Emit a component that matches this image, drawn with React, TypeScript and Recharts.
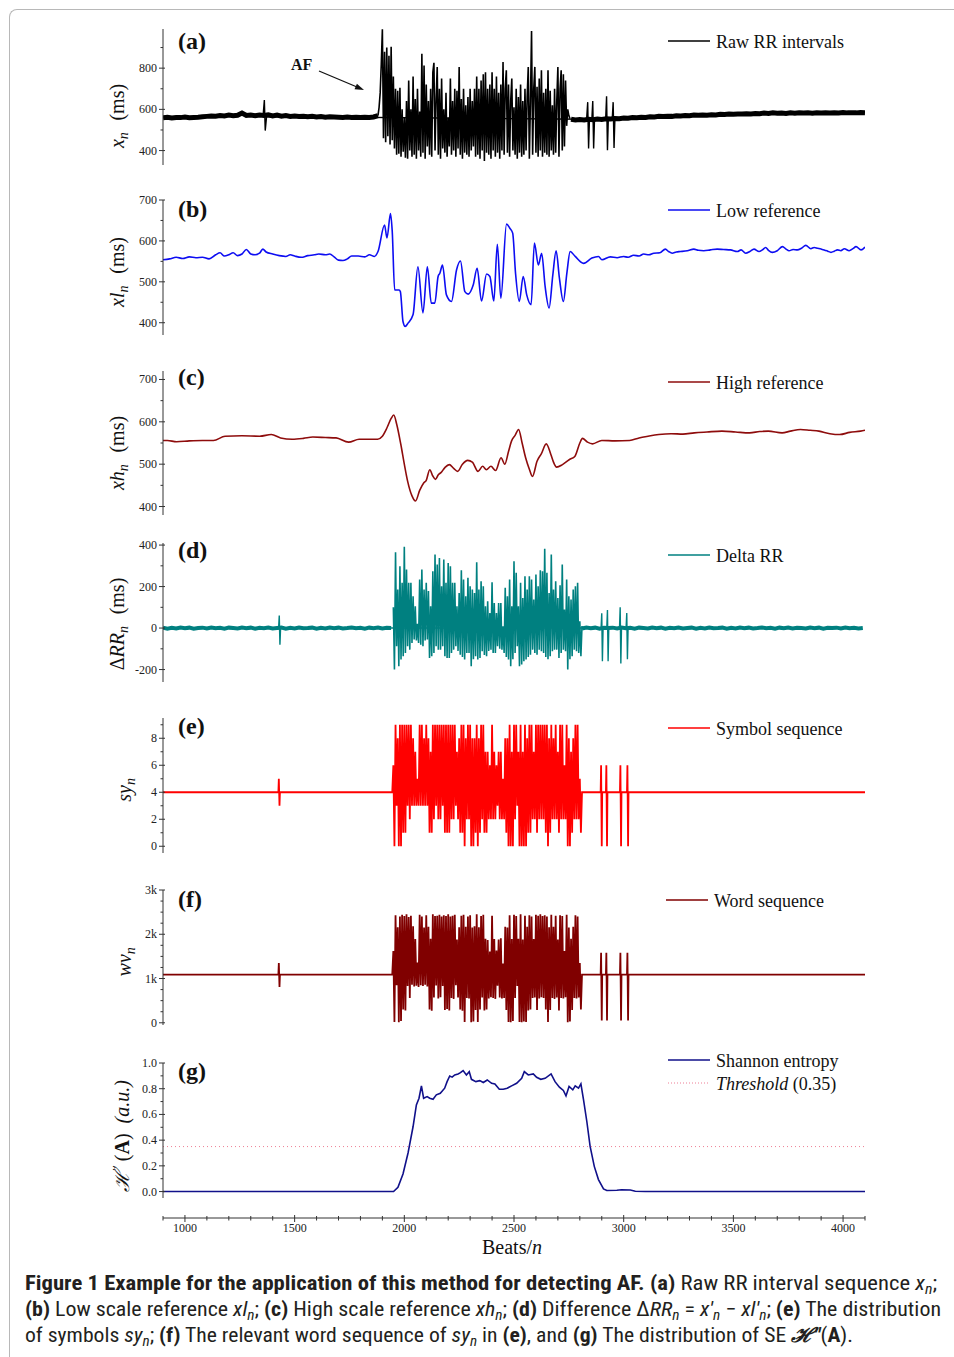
import React from 'react';
import { LineChart, Line, XAxis, YAxis, Legend } from 'recharts';

const SERIF = '"Liberation Serif", "Times New Roman", Times, serif';
const CAP_FONT = '"Liberation Sans Narrow", "Roboto Condensed", "Open Sans", "Liberation Sans", sans-serif';
const BEAT_DOMAIN: [number, number] = [900, 4100];
const X_TICKS = [900, 1000, 1100, 1200, 1300, 1400, 1500, 1600, 1700, 1800, 1900, 2000, 2100, 2200, 2300, 2400, 2500, 2600, 2700, 2800, 2900, 3000, 3100, 3200, 3300, 3400, 3500, 3600, 3700, 3800, 3900, 4000, 4100];
const X_MAJORS = [1000, 1500, 2000, 2500, 3000, 3500, 4000];

// ---------- (a) Raw RR intervals ----------
const A_BASE_L_START = 900; // step 20
const A_BASE_L = [
  559, 562, 558, 561, 560, 563, 559, 561, 562, 564,
  566, 568, 567, 570, 568, 572, 569, 571, 582, 570,
  572, 569, 573, 570, 574, 568, 572, 567, 570, 566,
  568, 565, 567, 564, 566, 563, 565, 562, 564, 563,
  562, 561, 563, 561, 562, 560, 562, 561, 563, 570];
const A_AF_START = 1880; // step 5
const A_AF = [
  570, 610, 680, 820, 989, 460, 880, 440, 900, 470,
  860, 430, 904, 450, 760, 410, 700, 380, 690, 385,
  705, 370, 600, 395, 560, 365, 640, 360, 740, 400,
  600, 370, 760, 380, 650, 360, 700, 400, 590, 370,
  870, 390, 813, 360, 720, 420, 640, 380, 700, 370,
  780, 826, 400, 650, 805, 380, 700, 360, 750, 410,
  600, 390, 680, 370, 560, 420, 750, 380, 640, 400,
  700, 370, 690, 410, 805, 380, 650, 360, 700, 390,
  620, 380, 660, 370, 700, 400, 640, 420, 700, 370,
  760, 380, 700, 360, 740, 400, 770, 350, 780, 390,
  700, 380, 720, 360, 780, 400, 700, 370, 760, 390,
  680, 360, 720, 400, 830, 380, 700, 790, 390, 720,
  370, 640, 750, 400, 610, 380, 700, 360, 660, 390,
  720, 370, 640, 380, 700, 400, 660, 805, 360, 640,
  980, 380, 700, 806, 390, 710, 370, 750, 400, 790,
  370, 680, 390, 700, 380, 790, 370, 690, 400, 620,
  380, 700, 390, 640, 805, 370, 700, 790, 400, 770,
  420, 740, 520, 600, 570, 555];
const A_BASE_R_START = 2760; // step 20
const A_BASE_R = [
  552, 548, 551, 549, 552, 550, 553, 551, 554, 553,
  556, 555, 558, 557, 560, 559, 562, 561, 564, 563,
  566, 565, 567, 566, 569, 568, 570, 569, 572, 571,
  573, 572, 574, 573, 576, 575, 577, 576, 578, 577,
  579, 578, 580, 579, 582, 580, 583, 581, 582, 580,
  583, 581, 584, 582, 583, 581, 584, 582, 583, 582,
  584, 582, 585, 583, 584, 583, 585, 584];
const A_SPIKES = [1356, 565, 1362, 645, 1366, 497, 1372, 565, 2831, 552, 2836, 635, 2840, 410, 2844, 552, 2855, 552, 2859, 640, 2863, 410, 2867, 552, 2918, 556, 2922, 663, 2926, 402, 2930, 556, 2948, 556, 2952, 635, 2956, 412, 2960, 556];

// ---------- (b) Low reference ----------
const B_PAIRS = [900, 554, 930, 556, 960, 560, 990, 557, 1020, 561, 1050, 559, 1080, 560, 1110, 556, 1140, 566, 1160, 571, 1180, 563, 1200, 566, 1220, 571, 1240, 564, 1260, 568, 1280, 579, 1300, 568, 1320, 566, 1340, 570, 1355, 580, 1370, 573, 1400, 568, 1430, 564, 1460, 562, 1480, 566, 1500, 563, 1530, 560, 1560, 564, 1590, 566, 1610, 568, 1640, 566, 1660, 568, 1680, 561, 1700, 553, 1720, 552, 1740, 556, 1760, 563, 1790, 563, 1820, 561, 1841, 566, 1864, 562, 1880, 574, 1910, 639, 1921, 607, 1937, 667, 1945, 623, 1956, 480, 1976, 480, 1982, 476, 1994, 403, 2004, 391, 2017, 399, 2040, 420, 2062, 537, 2085, 424, 2105, 537, 2123, 448, 2139, 448, 2154, 513, 2162, 521, 2174, 541, 2192, 468, 2215, 452, 2238, 529, 2256, 551, 2276, 476, 2291, 470, 2314, 492, 2332, 533, 2352, 453, 2375, 519, 2390, 513, 2408, 453, 2424, 592, 2440, 460, 2466, 641, 2481, 631, 2494, 619, 2507, 521, 2524, 452, 2542, 513, 2558, 468, 2578, 444, 2593, 595, 2611, 541, 2626, 570, 2642, 488, 2660, 436, 2677, 517, 2692, 576, 2707, 509, 2725, 452, 2741, 521, 2756, 574, 2779, 562, 2817, 545, 2855, 558, 2885, 562, 2901, 554, 2939, 561, 2970, 559, 2999, 562, 3020, 560, 3045, 565, 3070, 563, 3091, 568, 3115, 566, 3137, 570, 3165, 571, 3190, 580, 3205, 574, 3221, 570, 3240, 573, 3259, 574, 3290, 576, 3320, 580, 3340, 577, 3365, 576, 3395, 578, 3426, 580, 3455, 579, 3487, 578, 3518, 574, 3535, 578, 3556, 570, 3575, 574, 3594, 580, 3617, 574, 3632, 578, 3647, 584, 3660, 577, 3678, 572, 3700, 576, 3724, 586, 3740, 580, 3754, 576, 3772, 579, 3792, 578, 3810, 582, 3830, 589, 3853, 581, 3868, 584, 3884, 582, 3900, 580, 3914, 578, 3930, 575, 3945, 572, 3960, 575, 3975, 578, 3990, 576, 4006, 581, 4028, 576, 4045, 581, 4059, 586, 4082, 578, 4100, 585];

// ---------- (c) High reference ----------
const C_PAIRS = [900, 556, 920, 556, 962, 553, 1020, 555, 1080, 556, 1130, 556, 1183, 566, 1260, 567, 1341, 566, 1394, 570, 1436, 562, 1489, 559, 1540, 561, 1583, 564, 1640, 563, 1689, 562, 1746, 552, 1794, 559, 1840, 559, 1878, 559, 1900, 566, 1921, 586, 1940, 608, 1952, 616, 1965, 595, 1984, 547, 2000, 500, 2015, 460, 2035, 425, 2051, 413, 2070, 438, 2089, 456, 2100, 462, 2116, 487, 2130, 472, 2142, 464, 2155, 475, 2167, 480, 2185, 492, 2205, 499, 2225, 490, 2243, 483, 2265, 500, 2289, 509, 2310, 505, 2336, 483, 2357, 495, 2374, 487, 2395, 495, 2416, 485, 2441, 515, 2458, 500, 2475, 530, 2489, 555, 2505, 568, 2521, 582, 2537, 550, 2553, 515, 2570, 488, 2584, 471, 2605, 507, 2625, 525, 2647, 548, 2668, 523, 2680, 505, 2694, 493, 2721, 499, 2753, 511, 2778, 519, 2800, 550, 2812, 561, 2835, 552, 2858, 548, 2900, 556, 2960, 555, 3027, 556, 3070, 562, 3111, 566, 3160, 570, 3216, 572, 3270, 571, 3322, 574, 3380, 576, 3448, 578, 3510, 576, 3574, 574, 3620, 577, 3659, 578, 3722, 574, 3760, 578, 3806, 582, 3850, 580, 3890, 578, 3940, 572, 3985, 570, 4030, 575, 4080, 578, 4100, 580];

// ---------- (d) Delta RR ----------
const D_BASE_L_START = 900; // step 20
const D_BASE_L = [2, -3, 1, -2, 3, -1, 2, -3, 0, 2, -2, 3, -1, 1, -3, 2, 0, -2, 3, -1, 2, -3, 1, -1, 3, -2, 0, 2, -3, 1, -2, 3, -1, 0, 2, -3, 1, -2, 3, -1, 2, -2, 0, 3, -1, 1, -3, 2, -1, 3, -2, 1, 0];
const D_AF_START = 1950; // step 5
const D_AF = [
  100, -200, 365, -88, 186, -184, 298, -152, 218, -136,
  392, -120, 282, -88, 218, -104, 218, -72, 153, -55,
  105, -60, 20, -72, 234, -80, 282, -88, 186, -60,
  218, -55, 178, -144, 105, -136, 274, -120, 354, -88,
  306, -104, 338, -104, 202, -88, 330, -136, 218, -144,
  314, -144, 298, -120, 218, -104, 218, -88, 105, -110,
  169, -128, 279, -140, 234, -152, 153, -120, 242, -120,
  202, -184, 186, -150, 169, -136, 317, -152, 186, -144,
  226, -112, 202, -130, 105, -136, 129, -110, 73, -104,
  221, -120, 121, -120, 73, -88, 121, -100, 121, -104,
  9, -120, 194, -140, 153, -152, 234, -184, 105, -150,
  322, -120, 266, -88, 105, -184, 218, -176, 145, -160,
  250, -152, 186, -140, 250, -128, 234, -104, 137, -120,
  258, -128, 202, -104, 279, -112, 274, -120, 382, -140,
  266, -150, 169, -136, 354, -112, 186, -104, 226, -104,
  145, -144, 206, -120, 306, -104, 89, -112, 234, -200,
  153, -150, 137, -136, 186, -104, 202, -112, 218, -120,
  33, -136, 10];
const D_BASE_R_START = 2810; // step 20
const D_BASE_R = [-2, 3, -1, 2, -3, 1, 0, 2, -2, 3, -1, 1, -3, 2, 0, -2, 3, -1, 2, -3, 1, -1, 3, -2, 0, 2, -3, 1, -2, 3, -1, 0, 2, -3, 1, -2, 3, -1, 2, -2, 0, 3, -1, 1, -3, 2, -1, 3, -2, 1, 0, -2, 3, -1, 2, -3, 1, 0, 2, -2, 3, -1, 1, -2, 0];
const D_SPIKES = [1427, 0, 1430, 60, 1433, -80, 1436, 0, 2897, 0, 2900, 71, 2903, -160, 2906, 0, 2923, 0, 2926, 87, 2929, -160, 2932, 0, 2981, 0, 2984, 100, 2987, -171, 2990, 0, 3011, 0, 3014, 73, 3017, -150, 3020, 0];

// ---------- (e) Symbol sequence ----------
const E_PRE = [900, 4, 1426, 4, 1428, 5, 1431, 3, 1433, 4, 1945, 4];
const E_AF_START = 1950; // step 5
const E_AF = [
  6, 0, 9, 3, 8, 0, 9, 0, 9, 1,
  9, 1, 9, 3, 9, 2, 9, 3, 8, 3,
  7, 3, 5, 3, 9, 3, 9, 3, 8, 3,
  9, 3, 8, 1, 7, 1, 9, 2, 9, 3,
  9, 2, 9, 2, 9, 3, 9, 1, 9, 1,
  9, 1, 9, 2, 9, 2, 9, 3, 7, 2,
  8, 1, 9, 1, 9, 0, 8, 2, 9, 2,
  9, 0, 8, 0, 8, 1, 9, 0, 8, 1,
  9, 2, 9, 1, 7, 1, 7, 2, 6, 2,
  9, 2, 7, 2, 6, 3, 7, 2, 7, 2,
  5, 2, 8, 1, 8, 0, 9, 0, 7, 0,
  9, 2, 9, 3, 7, 0, 9, 0, 7, 0,
  9, 0, 8, 1, 9, 1, 9, 2, 7, 2,
  9, 1, 9, 2, 9, 2, 9, 2, 9, 1,
  9, 0, 8, 1, 9, 2, 8, 2, 9, 2,
  7, 1, 9, 2, 9, 2, 6, 2, 9, 0,
  8, 0, 7, 1, 8, 2, 9, 2, 9, 2,
  5, 1, 4];
const E_POST = [2895, 4, 2897, 6, 2900, 0, 2902, 4, 2919, 4, 2921, 6, 2924, 0, 2926, 4, 2983, 4, 2985, 6, 2988, 0, 2990, 4, 3015, 4, 3017, 6, 3020, 0, 3022, 4, 4100, 4];

// ---------- (f) Word sequence ----------
const F_PRE = [900, 1090, 1426, 1090, 1428, 1350, 1431, 810, 1433, 1090, 1945, 1090];
const F_AF_START = 1950; // step 5
const F_AF = [
  1620, 20, 2430, 850, 2160, 10, 2400, 40, 2440, 300,
  2410, 280, 2450, 830, 2390, 560, 2420, 860, 2180, 820,
  1890, 840, 1360, 810, 2440, 850, 2400, 830, 2150, 860,
  2430, 820, 2170, 300, 1900, 270, 2450, 570, 2410, 840,
  2420, 550, 2440, 580, 2400, 830, 2430, 290, 2410, 310,
  2450, 280, 2400, 560, 2420, 540, 2440, 850, 1880, 570,
  2160, 300, 2420, 270, 2440, 20, 2170, 560, 2400, 550,
  2430, 10, 2150, 30, 2180, 290, 2450, 20, 2160, 300,
  2410, 570, 2440, 280, 1900, 300, 1870, 550, 1610, 580,
  2420, 560, 1890, 540, 1630, 840, 1880, 570, 1910, 550,
  1340, 560, 2170, 290, 2150, 20, 2430, 10, 1890, 40,
  2440, 560, 2410, 830, 1900, 20, 2450, 10, 1880, 30,
  2420, 20, 2170, 280, 2430, 300, 2400, 560, 1890, 570,
  2440, 290, 2420, 550, 2450, 580, 2410, 560, 2430, 300,
  2400, 20, 2160, 290, 2440, 560, 2170, 540, 2420, 570,
  1880, 280, 2430, 560, 2410, 550, 1620, 580, 2440, 10,
  2150, 30, 1900, 290, 2170, 560, 2430, 550, 2400, 570,
  1350, 300, 1090];
const F_POST = [2895, 1090, 2897, 1580, 2900, 50, 2902, 1090, 2919, 1090, 2921, 1580, 2924, 50, 2926, 1090, 2983, 1090, 2985, 1580, 2988, 50, 2990, 1090, 3015, 1090, 3017, 1580, 3020, 50, 3022, 1090, 4100, 1090];

// ---------- (g) Shannon entropy ----------
const G_PAIRS = [900, 0, 1951, 0, 1971, 0.034, 1994, 0.137, 2017, 0.30, 2040, 0.506, 2055, 0.674, 2067, 0.726, 2078, 0.822, 2088, 0.726, 2104, 0.739, 2116, 0.726, 2131, 0.718, 2146, 0.752, 2164, 0.765, 2184, 0.804, 2195, 0.855, 2207, 0.899, 2218, 0.89, 2230, 0.907, 2245, 0.915, 2256, 0.925, 2268, 0.941, 2283, 0.907, 2296, 0.933, 2306, 0.873, 2326, 0.855, 2344, 0.863, 2360, 0.848, 2378, 0.868, 2398, 0.842, 2413, 0.837, 2433, 0.796, 2451, 0.796, 2469, 0.804, 2489, 0.822, 2512, 0.842, 2535, 0.881, 2547, 0.933, 2565, 0.907, 2588, 0.915, 2603, 0.889, 2622, 0.873, 2642, 0.881, 2669, 0.915, 2687, 0.855, 2707, 0.812, 2725, 0.786, 2737, 0.744, 2751, 0.817, 2768, 0.791, 2779, 0.822, 2794, 0.804, 2805, 0.837, 2817, 0.713, 2832, 0.545, 2847, 0.351, 2866, 0.196, 2885, 0.093, 2908, 0.02, 2923, 0.008, 2969, 0.01, 2990, 0.014, 3030, 0.012, 3053, 0.003, 3100, 0, 4100, 0];
const THRESHOLD_PAIRS = [900, 0.35, 4100, 0.35];

// ---------- helpers ----------
type Pt = { n: number; v: number };
const fromPairs = (a: number[]): Pt[] => {
  const out: Pt[] = [];
  for (let i = 0; i < a.length; i += 2) out.push({ n: a[i], v: a[i + 1] });
  return out;
};
const fromSeq = (start: number, step: number, vals: number[]): Pt[] => vals.map((v, i) => ({ n: start + i * step, v }));

const aBaseL = fromSeq(A_BASE_L_START, 20, A_BASE_L);
const aAF = fromSeq(A_AF_START, 5, A_AF);
const aBaseR = fromSeq(A_BASE_R_START, 20, A_BASE_R);
const aSpikes = fromPairs(A_SPIKES);
const bData = fromPairs(B_PAIRS);
const cData = fromPairs(C_PAIRS);
const dBaseL = fromSeq(D_BASE_L_START, 20, D_BASE_L);
const dAF = fromSeq(D_AF_START, 5, D_AF);
const dBaseR = fromSeq(D_BASE_R_START, 20, D_BASE_R);
const dSpikes = fromPairs(D_SPIKES);
const eData = [...fromPairs(E_PRE), ...fromSeq(E_AF_START, 5, E_AF), ...fromPairs(E_POST)];
const fData = [...fromPairs(F_PRE), ...fromSeq(F_AF_START, 5, F_AF), ...fromPairs(F_POST)];
const gData = fromPairs(G_PAIRS);
const thrData = fromPairs(THRESHOLD_PAIRS);

const isIn = (arr: number[], v: number) => arr.some((m) => Math.abs(m - v) < 1e-9);

const makeYTick = (majors: number[], fmt: (v: number) => string) => (p: any) => {
  const { x, y, payload } = p;
  const v = payload.value;
  const major = isIn(majors, v);
  return (
    <g>
      <line x1={x - (major ? 4 : 2.5)} x2={x + (major ? 2 : 0)} y1={y} y2={y} stroke="#333" strokeWidth={1} />
      {major && (
        <text x={x - 6} y={y + 4} textAnchor="end" fontFamily={SERIF} fontSize={12} fill="#222">
          {fmt(v)}
        </text>
      )}
    </g>
  );
};

const XTick = (p: any) => {
  const { x, y, payload } = p;
  const v = payload.value;
  const major = isIn(X_MAJORS, v);
  return (
    <g>
      <line x1={x} x2={x} y1={y - (major ? 3 : 2)} y2={y + (major ? 4 : 2.5)} stroke="#333" strokeWidth={1} />
      {major && (
        <text x={x} y={y + 14} textAnchor="middle" fontFamily={SERIF} fontSize={12} fill="#222">
          {v}
        </text>
      )}
    </g>
  );
};

const renderLegendName = (name: string) => {
  if (name === 'Threshold (0.35)') {
    return (
      <>
        <tspan fontStyle="italic">Threshold</tspan>
        <tspan>{' (0.35)'}</tspan>
      </>
    );
  }
  return name;
};

const LegendBox = (props: any) => {
  const items = (props.payload || []).filter((it: any) => it.type !== 'none' && it.value !== 'v');
  return (
    <svg width={240} height={items.length * 23} style={{ display: 'block', overflow: 'visible' }}>
      {items.map((it: any, i: number) => {
        const cy = 11.5 + i * 23;
        const dotted = it.value === 'Threshold (0.35)';
        return (
          <g key={i}>
            <line x1={0} x2={42} y1={cy - 1.5} y2={cy - 1.5} stroke={it.color} strokeWidth={dotted ? 1 : 1.4} strokeDasharray={dotted ? '1 2' : undefined} />
            <text x={48} y={cy + 5.5} fontFamily={SERIF} fontSize={18} fill="#111">
              {renderLegendName(String(it.value))}
            </text>
          </g>
        );
      })}
    </svg>
  );
};

const PAD = 12;

type PanelProps = {
  plotTop: number;
  plotH: number;
  domain: [number, number];
  ticks: number[];
  majors: number[];
  fmt: (v: number) => string;
  legendCenter: number;
  legendLeft?: number;
  children: React.ReactNode;
};

const Panel = ({ plotTop, plotH, domain, ticks, majors, fmt, legendCenter, legendLeft = 668, children }: PanelProps) => {
  const top = plotTop - PAD;
  return (
    <div style={{ position: 'absolute', left: 0, top }}>
      <LineChart width={954} height={plotH + 2 * PAD} margin={{ top: PAD, bottom: PAD, left: 123, right: 89 }}>
        <XAxis type="number" dataKey="n" domain={BEAT_DOMAIN} hide allowDataOverflow />
        <YAxis
          type="number"
          domain={domain}
          ticks={ticks}
          interval={0}
          allowDataOverflow
          width={40}
          tickSize={0}
          tickMargin={0}
          tickLine={false}
          axisLine={{ stroke: '#333', strokeWidth: 1 }}
          tick={makeYTick(majors, fmt)}
        />
        <Legend
          content={LegendBox}
          layout="vertical"
          align="center"
          verticalAlign="middle"
          wrapperStyle={{ left: legendLeft, top: legendCenter - 11.5 - top, width: 240 }}
        />
        {children}
      </LineChart>
    </div>
  );
};

const plain = (v: number) => String(v);
const kfmt = (v: number) => (v === 0 ? '0' : `${v / 1000}k`);
const onefmt = (v: number) => v.toFixed(1);

const Sub = ({ t, size = 14, d = 4 }: { t: string; size?: number; d?: number }) => (
  <>
    <tspan fontStyle="italic" fontSize={size} dy={d}>{t}</tspan>
    <tspan dy={-d}>{'\u200a'}</tspan>
  </>
);

export default function App() {
  const navy = '#10108a';
  return (
    <div style={{ position: 'absolute', left: 0, top: 0, width: 954, height: 1357, background: '#fff', overflow: 'hidden' }}>
      <div style={{ position: 'absolute', left: 9, top: 9, width: 980, height: 1400, borderTop: '1px solid #b8b8b8', borderLeft: '1px solid #b8b8b8', borderTopLeftRadius: 8 }} />

      {/* (a) */}
      <Panel plotTop={29} plotH={136} domain={[330, 990]} ticks={[400, 500, 600, 700, 800, 900]} majors={[400, 600, 800]} fmt={plain} legendCenter={42}>
        <Line data={aBaseL} dataKey="v" stroke="#000" strokeWidth={5} dot={false} isAnimationActive={false} legendType="none" />
        <Line data={aBaseR} dataKey="v" stroke="#000" strokeWidth={5} dot={false} isAnimationActive={false} legendType="none" />
        <Line data={aSpikes} dataKey="v" stroke="#000" strokeWidth={1.4} dot={false} isAnimationActive={false} legendType="none" />
        <Line data={aAF} dataKey="v" name="Raw RR intervals" stroke="#000" strokeWidth={1.6} dot={false} isAnimationActive={false} />
      </Panel>

      {/* (b) */}
      <Panel plotTop={200} plotH={135} domain={[370, 700]} ticks={[400, 450, 500, 550, 600, 650, 700]} majors={[400, 500, 600, 700]} fmt={plain} legendCenter={211}>
        <Line type="monotone" data={bData} dataKey="v" name="Low reference" stroke="#0d0df2" strokeWidth={1.6} dot={false} isAnimationActive={false} />
      </Panel>

      {/* (c) */}
      <Panel plotTop={371} plotH={144} domain={[380, 720]} ticks={[400, 450, 500, 550, 600, 650, 700]} majors={[400, 500, 600, 700]} fmt={plain} legendCenter={383}>
        <Line type="monotone" data={cData} dataKey="v" name="High reference" stroke="#8e0c0c" strokeWidth={1.6} dot={false} isAnimationActive={false} />
      </Panel>

      {/* (d) */}
      <Panel plotTop={543} plotH={139} domain={[-260, 410]} ticks={[-200, -100, 0, 100, 200, 300, 400]} majors={[-200, 0, 200, 400]} fmt={plain} legendCenter={556}>
        <Line data={dBaseL} dataKey="v" stroke="#008080" strokeWidth={4} dot={false} isAnimationActive={false} legendType="none" />
        <Line data={dBaseR} dataKey="v" stroke="#008080" strokeWidth={4} dot={false} isAnimationActive={false} legendType="none" />
        <Line data={dSpikes} dataKey="v" stroke="#008080" strokeWidth={1.4} dot={false} isAnimationActive={false} legendType="none" />
        <Line data={dAF} dataKey="v" name="Delta RR" stroke="#008080" strokeWidth={1.6} dot={false} isAnimationActive={false} />
      </Panel>

      {/* (e) */}
      <Panel plotTop={718} plotH={135} domain={[-0.5, 9.5]} ticks={[0, 1, 2, 3, 4, 5, 6, 7, 8, 9]} majors={[0, 2, 4, 6, 8]} fmt={plain} legendCenter={729}>
        <Line data={eData} dataKey="v" name="Symbol sequence" stroke="#ff0000" strokeWidth={1.8} dot={false} isAnimationActive={false} />
      </Panel>

      {/* (f) */}
      <Panel plotTop={890} plotH={135} domain={[-50, 3000]} ticks={[0, 250, 500, 750, 1000, 1250, 1500, 1750, 2000, 2250, 2500, 2750, 3000]} majors={[0, 1000, 2000, 3000]} fmt={kfmt} legendCenter={901} legendLeft={666}>
        <Line data={fData} dataKey="v" name="Word sequence" stroke="#800000" strokeWidth={1.8} dot={false} isAnimationActive={false} />
      </Panel>

      {/* (g) */}
      <Panel plotTop={1063} plotH={135} domain={[-0.05, 1.0]} ticks={[0, 0.1, 0.2, 0.3, 0.4, 0.5, 0.6, 0.7, 0.8, 0.9, 1.0]} majors={[0, 0.2, 0.4, 0.6, 0.8, 1.0]} fmt={onefmt} legendCenter={1061}>
        <Line data={gData} dataKey="v" name="Shannon entropy" stroke={navy} strokeWidth={1.6} dot={false} isAnimationActive={false} />
        <Line data={thrData} dataKey="v" name="Threshold (0.35)" stroke="#ee7f95" strokeWidth={1} strokeDasharray="1 3" dot={false} isAnimationActive={false} />
      </Panel>

      {/* shared beat axis */}
      <div style={{ position: 'absolute', left: 0, top: 1200 }}>
        <LineChart width={954} height={60} margin={{ top: 5, bottom: 10, left: 163, right: 89 }}>
          <XAxis
            type="number"
            dataKey="n"
            domain={BEAT_DOMAIN}
            ticks={X_TICKS}
            interval={0}
            allowDataOverflow
            height={32}
            tickSize={0}
            tickMargin={0}
            tickLine={false}
            axisLine={{ stroke: '#333', strokeWidth: 1 }}
            tick={XTick}
          />
        </LineChart>
      </div>

      {/* text overlay */}
      <svg width={954} height={1357} style={{ position: 'absolute', left: 0, top: 0, pointerEvents: 'none' }}>
        <g fontFamily={SERIF} fontWeight="bold" fontSize={24} fill="#111">
          <text x={178} y={49}>(a)</text>
          <text x={178} y={217}>(b)</text>
          <text x={178} y={385}>(c)</text>
          <text x={178} y={558}>(d)</text>
          <text x={178} y={734}>(e)</text>
          <text x={178} y={907}>(f)</text>
          <text x={178} y={1079}>(g)</text>
        </g>
        <text x={291} y={70} fontFamily={SERIF} fontWeight="bold" fontSize={16} fill="#111">AF</text>
        <line x1={319} y1={71} x2={357} y2={87} stroke="#111" strokeWidth={1.2} />
        <polygon points="364,90 354.5,89.3 356.9,83.7" fill="#111" />

        <g fontFamily={SERIF} fontSize={20} fill="#111" textAnchor="middle">
          <text transform="translate(124,116) rotate(-90)">
            <tspan fontStyle="italic">x</tspan><Sub t="n" /><tspan>{'\u2002(ms)'}</tspan>
          </text>
          <text transform="translate(124,272) rotate(-90)">
            <tspan fontStyle="italic">xl</tspan><Sub t="n" /><tspan>{'\u2002(ms)'}</tspan>
          </text>
          <text transform="translate(124,453) rotate(-90)">
            <tspan fontStyle="italic">xh</tspan><Sub t="n" /><tspan>{'\u2002(ms)'}</tspan>
          </text>
          <text transform="translate(124,624) rotate(-90)">
            <tspan>{'\u0394'}</tspan><tspan fontStyle="italic">RR</tspan><Sub t="n" /><tspan>{'\u2002(ms)'}</tspan>
          </text>
          <text transform="translate(131,789) rotate(-90)">
            <tspan fontStyle="italic">sy</tspan><Sub t="n" />
          </text>
          <text transform="translate(131,961) rotate(-90)">
            <tspan fontStyle="italic">wv</tspan><Sub t="n" />
          </text>
          <text transform="translate(129,1136) rotate(-90)">
            <tspan fontStyle="italic">{'\u210B'}</tspan>
            <tspan fontSize={13} dy={-8}>{'\u2032\u2032'}</tspan>
            <tspan dy={8}>{'\u2009('}</tspan>
            <tspan fontWeight="bold">A</tspan>
            <tspan>{')\u2002'}</tspan>
            <tspan fontStyle="italic">(a.u.)</tspan>
          </text>
        </g>

        <text x={512} y={1254} textAnchor="middle" fontFamily={SERIF} fontSize={20} fill="#111">
          <tspan>Beats/</tspan><tspan fontStyle="italic">n</tspan>
        </text>

        <g fontFamily={CAP_FONT} fontSize={20} fill="#231f20">
          <text x={25} y={1290} textLength={912} lengthAdjust="spacingAndGlyphs">
            <tspan fontWeight="bold">{'Figure 1 Example for the application of this method for detecting AF. (a)'}</tspan>
            <tspan>{' Raw RR interval sequence '}</tspan>
            <tspan fontStyle="italic">x</tspan>
            <tspan fontStyle="italic" fontSize={14} dy={4}>n</tspan>
            <tspan dy={-4}>;</tspan>
          </text>
          <text x={25} y={1316} textLength={916} lengthAdjust="spacingAndGlyphs">
            <tspan fontWeight="bold">(b)</tspan>
            <tspan>{' Low scale reference '}</tspan>
            <tspan fontStyle="italic">xl</tspan>
            <tspan fontStyle="italic" fontSize={14} dy={4}>n</tspan>
            <tspan dy={-4}>{'; '}</tspan>
            <tspan fontWeight="bold">(c)</tspan>
            <tspan>{' High scale reference '}</tspan>
            <tspan fontStyle="italic">xh</tspan>
            <tspan fontStyle="italic" fontSize={14} dy={4}>n</tspan>
            <tspan dy={-4}>{'; '}</tspan>
            <tspan fontWeight="bold">(d)</tspan>
            <tspan>{' Difference \u0394'}</tspan>
            <tspan fontStyle="italic">RR</tspan>
            <tspan fontStyle="italic" fontSize={14} dy={4}>n</tspan>
            <tspan dy={-4}>{' = '}</tspan>
            <tspan fontStyle="italic">{'x\u2032'}</tspan>
            <tspan fontStyle="italic" fontSize={14} dy={4}>n</tspan>
            <tspan dy={-4}>{' \u2212 '}</tspan>
            <tspan fontStyle="italic">{'xl\u2032'}</tspan>
            <tspan fontStyle="italic" fontSize={14} dy={4}>n</tspan>
            <tspan dy={-4}>{'; '}</tspan>
            <tspan fontWeight="bold">(e)</tspan>
            <tspan>{' The distribution'}</tspan>
          </text>
          <text x={25} y={1342} textLength={828} lengthAdjust="spacingAndGlyphs">
            <tspan>{'of symbols '}</tspan>
            <tspan fontStyle="italic">sy</tspan>
            <tspan fontStyle="italic" fontSize={14} dy={4}>n</tspan>
            <tspan dy={-4}>{'; '}</tspan>
            <tspan fontWeight="bold">(f)</tspan>
            <tspan>{' The relevant word sequence of '}</tspan>
            <tspan fontStyle="italic">sy</tspan>
            <tspan fontStyle="italic" fontSize={14} dy={4}>n</tspan>
            <tspan dy={-4}>{' in '}</tspan>
            <tspan fontWeight="bold">(e)</tspan>
            <tspan>{', and '}</tspan>
            <tspan fontWeight="bold">(g)</tspan>
            <tspan>{' The distribution of SE '}</tspan>
            <tspan fontWeight="bold" fontStyle="italic">{'\u210B\u2033'}</tspan>
            <tspan>(</tspan>
            <tspan fontWeight="bold">A</tspan>
            <tspan>).</tspan>
          </text>
        </g>
      </svg>
    </div>
  );
}
